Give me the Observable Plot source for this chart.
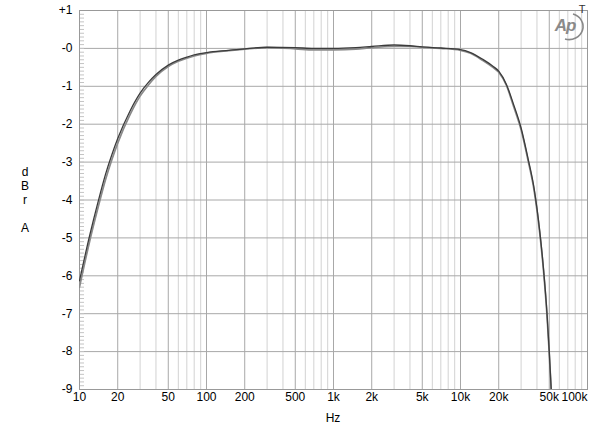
<!DOCTYPE html>
<html>
<head>
<meta charset="utf-8">
<script src="https://cdn.jsdelivr.net/npm/d3@7"></script>
<script src="https://cdn.jsdelivr.net/npm/@observablehq/plot@0.6"></script>
<style>
html, body { margin: 0; padding: 0; background: #fff; }
#chart { width: 600px; height: 433px; }
</style>
</head>
<body>
<div id="chart"></div>
<script>
// Frequencies (Hz)
const freq = [10, 12, 14, 16, 18, 20, 25, 30, 35, 40, 50, 60, 70, 80, 100, 150, 200, 300, 500, 700, 1000, 1500, 2000, 3000, 4000, 5000, 7000, 10000, 12000, 15000, 18000, 20000, 23000, 26000, 30000, 34000, 38000, 42000, 45000, 48000, 50000, 52000];
// Channel responses (dBr A)
const darkDb = [-6.13, -4.95, -4.05, -3.33, -2.8, -2.38, -1.65, -1.18, -0.89, -0.69, -0.44, -0.31, -0.23, -0.17, -0.11, -0.05, -0.01, 0.03, 0.02, 0.0, 0.0, 0.02, 0.05, 0.09, 0.07, 0.04, 0.01, -0.03, -0.11, -0.29, -0.47, -0.6, -0.95, -1.45, -2.1, -2.9, -3.7, -4.8, -5.8, -7.0, -8.0, -9.1];
const lightDb = [-6.3, -5.1, -4.2, -3.47, -2.93, -2.5, -1.75, -1.26, -0.96, -0.74, -0.48, -0.34, -0.26, -0.2, -0.13, -0.06, -0.02, 0.02, -0.01, -0.04, -0.04, -0.02, 0.02, 0.05, 0.05, 0.03, 0.0, -0.05, -0.13, -0.32, -0.5, -0.63, -0.98, -1.5, -2.15, -2.95, -3.75, -4.85, -5.85, -7.05, -8.05, -9.15];

// Axis ticks
const xTickValues = [10, 20, 50, 100, 200, 500, 1000, 2000, 5000, 10000, 20000, 50000, 100000];
const xTickLabels = ["10", "20", "50", "100", "200", "500", "1k", "2k", "5k", "10k", "20k", "50k", "100k"];
const majorGrid = [20, 50, 100, 200, 500, 1000, 2000, 5000, 10000, 20000, 50000];
const minorGrid = [30, 40, 60, 70, 80, 90, 300, 400, 600, 700, 800, 900, 3000, 4000, 6000, 7000, 8000, 9000, 30000, 40000, 60000, 70000, 80000, 90000];
const yTickValues = [1, 0, -1, -2, -3, -4, -5, -6, -7, -8, -9];
const yTickLabels = ["+1", "-0", "-1", "-2", "-3", "-4", "-5", "-6", "-7", "-8", "-9"];
const yMinor = d3.range(-90, 11).map(v => v / 10);
const yLabelLetters = ["d", "B", "r", "", "A"];

const darkData = freq.map((f, i) => ({f, db: darkDb[i]}));
const lightData = freq.map((f, i) => ({f, db: lightDb[i]}));
const xLabels = xTickValues.map((v, i) => ({v, label: xTickLabels[i], last: i === xTickValues.length - 1}));
const yLabels = yTickValues.map((v, i) => ({v, label: yTickLabels[i]}));

const plot = Plot.plot({
  width: 600,
  height: 433,
  marginLeft: 79,
  marginRight: 13,
  marginTop: 10,
  marginBottom: 44,
  style: {fontFamily: "Arial, 'Liberation Sans', sans-serif", fontSize: "12px", color: "#000", background: "#fff"},
  x: {type: "log", domain: [10, 100000], axis: null},
  y: {domain: [-9, 1], axis: null},
  marks: [
    Plot.ruleX(minorGrid, {stroke: "#d2d2d2", strokeWidth: 1}),
    Plot.ruleX(majorGrid, {stroke: "#a8a8a8", strokeWidth: 1}),
    Plot.ruleY(yTickValues, {stroke: "#a8a8a8", strokeWidth: 1}),
    Plot.tickY(yMinor, {y: d => d, stroke: "#c4c4c4", insetRight: 503}),
    Plot.text(yLabels, {y: "v", text: "label", frameAnchor: "left", textAnchor: "end", dx: -7, fontSize: 12, fill: "#000"}),
    Plot.text(xLabels.filter(d => !d.last), {x: "v", text: "label", frameAnchor: "bottom", lineAnchor: "top", dy: 3, fontSize: 12, fill: "#000"}),
    Plot.text(xLabels.filter(d => d.last), {x: "v", text: "label", frameAnchor: "bottom", lineAnchor: "top", textAnchor: "end", dy: 3, fontSize: 12, fill: "#000"}),
    Plot.frame({stroke: "#999"}),
    Plot.line(lightData, {x: "f", y: "db", stroke: "#8a8a8a", strokeWidth: 1.7, curve: "monotone-x", clip: true}),
    Plot.line(darkData, {x: "f", y: "db", stroke: "#3c3c3c", strokeWidth: 1.3, curve: "monotone-x", clip: true})
  ]
});

document.getElementById("chart").appendChild(plot);

const svg = d3.select(plot);
// Vertical stacked y label
yLabelLetters.forEach((ch, i) => {
  if (!ch) return;
  svg.append("text")
    .attr("x", 25).attr("y", 176 + i * 14)
    .attr("text-anchor", "middle")
    .attr("font-size", 12)
    .attr("fill", "#000")
    .text(ch);
});
// X label
svg.append("text").attr("x", 333).attr("y", 422).attr("text-anchor", "middle").attr("font-size", 12).attr("fill", "#000").text("Hz");
// AP logo
svg.append("path").attr("d", "M573,14 A14,13 0 0 1 565,39").attr("fill", "none").attr("stroke", "#888").attr("stroke-width", 1.6);
svg.append("text").attr("x", 565).attr("y", 31).attr("text-anchor", "middle").attr("font-size", 17).attr("font-style", "italic").attr("font-weight", "bold").attr("fill", "#8a8a8a").attr("letter-spacing", -1).text("Ap");
svg.append("text").attr("x", 582).attr("y", 13).attr("text-anchor", "middle").attr("font-size", 11).attr("fill", "#333").text("T");
</script>
</body>
</html>
